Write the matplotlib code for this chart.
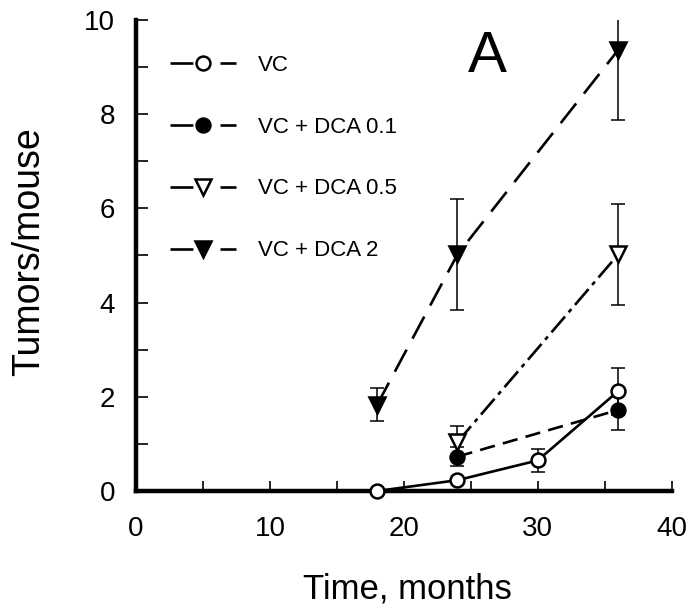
import matplotlib
matplotlib.use("Agg")
import matplotlib.pyplot as plt
from matplotlib.lines import Line2D
from matplotlib.ticker import MultipleLocator

plt.rcParams['font.family'] = ['Liberation Sans', 'DejaVu Sans']
plt.rcParams['lines.scale_dashes'] = False

# data (months, tumors/mouse, +/- error)
vc_x = [18, 24, 30, 36]
vc_y = [0.0, 0.23, 0.65, 2.12]
vc_err = [0.0, 0.0, 0.24, 0.5]

dca01_x = [24, 36]
dca01_y = [0.73, 1.72]
dca01_err = [0.2, 0.43]

dca05_x = [24, 36]
dca05_y = [1.04, 5.02]
dca05_err = [0.33, 1.08]

dca2_x = [18, 24, 36]
dca2_y = [1.83, 5.02, 9.36]
dca2_err = [0.35, 1.17, 1.48]

labels = ['VC', 'VC + DCA 0.1', 'VC + DCA 0.5', 'VC + DCA 2']

fig = plt.figure(figsize=(6.94, 6.12), dpi=100)
ax = fig.add_axes([0.196, 0.1977, 0.772, 0.770])

series = [
    (vc_x, vc_y, vc_err, 'o', 'white', (None, None), 10),
    (dca01_x, dca01_y, dca01_err, 'o', 'black', (0, (11, 6)), 10),
    (dca05_x, dca05_y, dca05_err, 'v', 'white', (0, (15, 4, 3, 4)), 11),
    (dca2_x, dca2_y, dca2_err, 'v', 'black', (0, (18, 9)), 11),
]

for x, y, err, mk, fc, ls, ms in series:
    ax.errorbar(x, y, yerr=err, fmt='none', ecolor='black',
                elinewidth=1.1, capsize=5, capthick=1.1, zorder=2)
    line, = ax.plot(x, y, color='black', lw=1.9, zorder=3)
    if ls[0] is not None:
        line.set_linestyle(ls)
    ax.plot(x, y, linestyle='none', marker=mk, markersize=ms,
            markerfacecolor=fc, markeredgecolor='black',
            markeredgewidth=1.8, zorder=4, clip_on=False)

ax.set_xlim(0, 40)
ax.set_ylim(0, 10)
ax.xaxis.set_major_locator(MultipleLocator(10))
ax.xaxis.set_minor_locator(MultipleLocator(5))
ax.yaxis.set_major_locator(MultipleLocator(2))
ax.yaxis.set_minor_locator(MultipleLocator(1))

for s in ['top', 'right']:
    ax.spines[s].set_visible(False)
for s in ['left', 'bottom']:
    ax.spines[s].set_linewidth(3.2)

ax.tick_params(axis='y', which='both', direction='in', length=8.5, width=1.2,
               labelsize=20, pad=15)
ax.tick_params(axis='x', which='both', direction='in', length=7, width=1.2,
               labelsize=20, pad=18)

ax.set_xlabel('Time, months', fontsize=25)
ax.set_ylabel('Tumors/mouse', fontsize=27)
ax.xaxis.set_label_coords(0.507, -0.172)
ax.yaxis.set_label_coords(-0.165, 0.507)

ax.text(26.2, 8.9, 'A', fontsize=42, ha='center', va='baseline')

handles = []
for _, _, _, mk, fc, _, ms in series:
    h = Line2D([], [], color='black', lw=1.9, linestyle=(0, (16.5, 19.5)),
               marker=mk, markersize=ms, markerfacecolor=fc,
               markeredgecolor='black', markeredgewidth=1.8)
    handles.append(h)

ax.legend(handles, labels, loc='upper left', bbox_to_anchor=(0.063, 0.926),
          frameon=False, fontsize=16, borderpad=0, borderaxespad=0,
          handlelength=3.0, handletextpad=0.95, labelspacing=1.84,
          numpoints=1)

fig.savefig('out.png', dpi=100)
